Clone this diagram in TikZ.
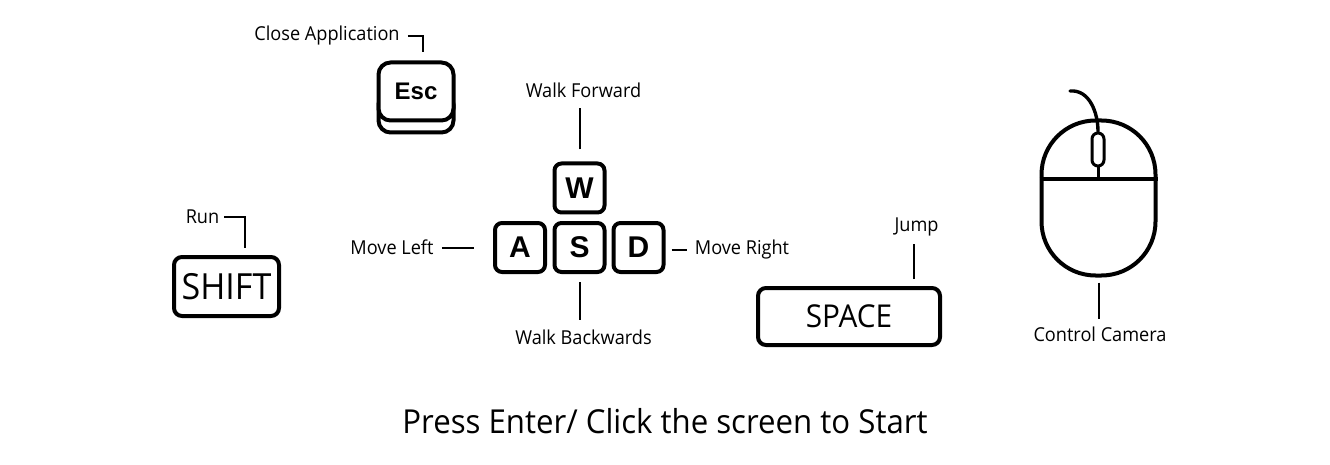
\documentclass[tikz,border=0pt]{standalone}
\usepackage{fontspec}
\setmainfont[FakeStretch=0.945]{Open Sans}
\newfontfamily\keyfont{Liberation Sans}
\begin{document}
\begin{tikzpicture}[x=1pt,y=-1pt,
    key/.style = {draw, line width=4pt, fill=white, rounded corners=7pt, inner sep=0pt, font=\keyfont\bfseries\fontsize{30}{30}\selectfont},
    bigkey/.style = {key, rounded corners=8pt, font=\fontsize{36}{36}\selectfont},
    lbl/.style = {inner sep=0pt, font=\fontsize{19.2}{22}\selectfont},
    leader/.style = {line width=2pt}]
    \useasboundingbox (0,0) rectangle (1330,465);
    \node[key] (escbase) [minimum width=75pt, minimum height=40pt, rounded corners=12pt] at (416,112.5) {};
    \node[key] (esc) [minimum width=75pt, minimum height=58pt, rounded corners=12pt, font=\keyfont\bfseries\fontsize{24}{24}\selectfont] at (416,91.5) {Esc};
    \node[key] (w) [minimum width=50pt, minimum height=49pt] at (579.5,188) {W};
    \node[key] (a) [minimum width=50pt, minimum height=49pt] at (520,247.5) {A};
    \node[key] (s) [minimum width=50pt, minimum height=49pt] at (579.5,247.5) {S};
    \node[key] (d) [minimum width=50pt, minimum height=49pt] at (638.5,247.5) {D};
    \node[bigkey] (shift) [minimum width=105pt, minimum height=59pt] at (226.5,286.5) {SHIFT};
    \node[bigkey] (space) [minimum width=182pt, minimum height=57pt, font=\fontsize{31.5}{32}\selectfont] at (849,316.5) {SPACE};
    \node[key] (mouse) [minimum width=114pt, minimum height=155pt, rounded corners=54pt, fill=none] at (1098.5,198) {};
    \node[key] (wheel) [minimum width=12pt, minimum height=33pt, rounded corners=6pt, line width=3pt] at (1098,149.5) {};
    \coordinate (divider) at (1098,179);
    \coordinate (cordend) at (1070,91);
    \node[lbl] (lblesc) at (327,36) {Close Application};
    \node[lbl] (lblw) at (583.5,90) {Walk Forward};
    \node[lbl] (lbla) at (392,247.5) {Move Left};
    \node[lbl] (lbld) at (742,249.5) {Move Right};
    \node[lbl] (lbls) at (583.5,337) {Walk Backwards};
    \node[lbl] (lblspace) at (916.5,226.5) {Jump};
    \node[lbl] (lblshift) at (202.5,217) {Run};
    \node[lbl] (lblmouse) at (1100,334) {Control Camera};
    \node (start) [inner sep=0pt, font=\fontsize{33}{36}\selectfont] at (665,421) {Press Enter/ Click the screen to Start};
    \draw[leader, shorten <=8pt, shorten >=8pt] (lblesc.east) -| ([xshift=7pt]esc.north);
    \draw[leader, shorten <=12pt, shorten >=10pt] (w.north) -- (w.north |- lblw.south);
    \draw[leader, shorten <=8pt, shorten >=19pt] (lbla.east) -- (lbla.east -| a.west);
    \draw[leader, shorten <=6pt, shorten >=8pt] (d.east |- lbld.west) -- (lbld.west);
    \draw[leader, shorten <=8pt, shorten >=9pt] (s.south) -- (s.south |- lbls.north);
    \draw[leader, shorten <=7pt, shorten >=8pt] ([xshift=65pt]space.north) -- ([xshift=65pt]space.north |- lblspace.south);
    \draw[leader, shorten <=5pt, shorten >=7pt] (lblshift.east) -| ([xshift=18.5pt]shift.north);
    \draw[leader, shorten <=5pt, shorten >=7pt] (mouse.south) -- (mouse.south |- lblmouse.north);
    \draw[line width=4pt] (mouse.west |- divider) -- (mouse.east |- divider);
    \draw[line width=3pt] (wheel.south) -- (wheel.south |- divider);
    \draw[line width=3.4pt, line cap=round] (cordend) to [out=5,in=90] (wheel.north);
\end{tikzpicture}
\end{document}
